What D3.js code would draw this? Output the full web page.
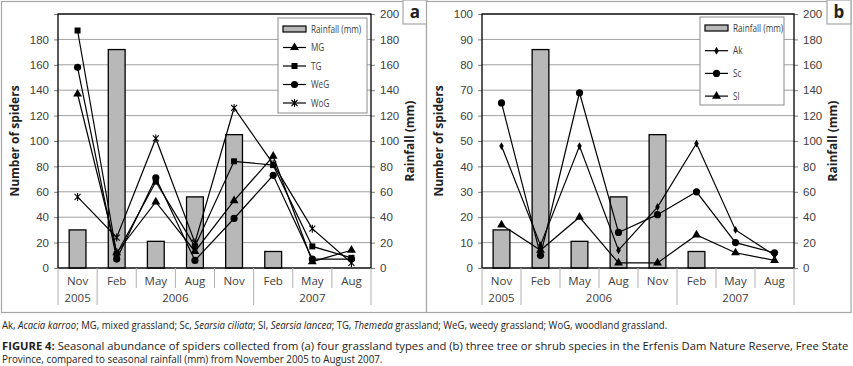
<!DOCTYPE html>
<html lang="en">
<head>
  <meta charset="UTF-8" />
  <title>Seasonal abundance of spiders</title>
  <script src="https://d3js.org/d3.v7.min.js"></script>
  <style>
    body { margin: 0; background: #fff; }
    svg { display: block; font-family: "Open Sans", sans-serif; }
  </style>
</head>
<body>
  <svg id="chart" width="853" height="366"></svg>
  <script>
    // categories (sampling seasons)
    const months = ["Nov", "Feb", "May", "Aug", "Nov", "Feb", "May", "Aug"];
    const years = [
      { label: "2005", from: 0, to: 1 },
      { label: "2006", from: 1, to: 5 },
      { label: "2007", from: 5, to: 8 }
    ];
    // rainfall (mm), right axis
    const rainfall = [30, 172, 21, 56, 105, 13, 0, 0];
    // panel a: grassland types
    const mg  = [137, 12, 52, 13, 53, 88, 5, 14];
    const tg  = [187, 11, 68, 17, 84, 81, 17, 8];
    const weg = [158, 7, 71, 6, 39, 73, 7, 7];
    const wog = [56, 24, 102, 20, 126, 82, 31, 4];
    // panel b: tree / shrub species
    const ak = [48, 9, 48, 7, 24, 49, 15, 5];
    const sc = [65, 5, 69, 14, 21, 30, 10, 6];
    const sl = [17, 7, 20, 2, 2, 13, 6, 3];

    const svg = d3.select("#chart");
    const grey = "#a6a6a6";
    const textCol = "#404040";

    // marker shapes
    const markers = {
      triangle: g => g.append("path").attr("d", d3.symbol(d3.symbolTriangle, 34)()),
      square: g => g.append("rect").attr("x", -3).attr("y", -3).attr("width", 6).attr("height", 6),
      circle: g => g.append("circle").attr("r", 3.6),
      diamond: g => g.append("path").attr("d", d3.symbol(d3.symbolDiamond, 18)()),
      star: g => g.append("path").attr("d", "M-3,-3L3,3M-3,3L3,-3M0,-4L0,4")
                  .attr("stroke", "#000").attr("stroke-width", 1.1).attr("fill", "none")
    };

    function drawPanel(p) {
      const g = svg.append("g");
      const x = d3.scaleBand().domain(d3.range(months.length)).range([p.left, p.right]);
      const yL = d3.scaleLinear().domain([0, p.leftMax]).range([p.bottom, p.top]);
      const yR = d3.scaleLinear().domain([0, 200]).range([p.bottom, p.top]);
      const cx = i => x(i) + x.bandwidth() / 2;

      // outer frame
      g.append("rect").attr("x", p.frameX).attr("y", 1.5).attr("width", p.frameW).attr("height", 311)
        .attr("fill", "#fff").attr("stroke", grey).attr("stroke-width", 1.2);

      // gridlines
      const lt = d3.range(0, p.leftMax + 0.1, p.leftStep);
      g.append("g").selectAll("line").data(lt).join("line")
        .attr("x1", p.left).attr("x2", p.right)
        .attr("y1", d => yL(d)).attr("y2", d => yL(d))
        .attr("stroke", "#a0a0a0").attr("stroke-width", 1);

      // left axis
      const la = g.append("g").attr("transform", `translate(${p.left},0)`)
        .call(d3.axisLeft(yL).tickValues(lt).tickSize(4).tickPadding(5)
          .tickFormat(d => d === p.leftMax && p.hideTop ? "" : d));
      // right axis
      const ra = g.append("g").attr("transform", `translate(${p.right},0)`)
        .call(d3.axisRight(yR).tickValues(d3.range(0, 201, 20)).tickSize(4).tickPadding(5));
      [la, ra].forEach(a => {
        a.select(".domain").remove();
        a.selectAll("line").attr("stroke", "#808080");
        a.selectAll("text").attr("fill", textCol).style("font-size", "11.5px");
      });

      // axis titles
      g.append("text").attr("transform", `translate(${p.left - 39},${(p.top + p.bottom) / 2}) rotate(-90)`)
        .attr("text-anchor", "middle").attr("font-weight", "bold").style("font-size", "12px")
        .attr("fill", "#222").text("Number of spiders");
      g.append("text").attr("transform", `translate(${p.right + 43},${(p.top + p.bottom) / 2}) rotate(-90)`)
        .attr("text-anchor", "middle").attr("font-weight", "bold").style("font-size", "12px")
        .attr("fill", "#222").text("Rainfall (mm)");

      // rainfall bars
      const bw = x.bandwidth() * 0.43;
      const bars = rainfall.map((v, i) => ({ v, i })).filter(d => d.v > 0);
      g.append("g").selectAll("rect").data(bars).join("rect")
        .attr("x", d => cx(d.i) - bw / 2)
        .attr("y", d => yR(d.v)).attr("width", bw).attr("height", d => p.bottom - yR(d.v))
        .attr("fill", "#b8b8b8").attr("stroke", "#000").attr("stroke-width", 1.3);

      // plot border
      g.append("rect").attr("x", p.left).attr("y", p.top)
        .attr("width", p.right - p.left).attr("height", p.bottom - p.top)
        .attr("fill", "none").attr("stroke", "#000").attr("stroke-width", 1.3);

      // category separators
      const bounds = d3.range(months.length + 1);
      const yearBounds = new Set(years.flatMap(y => [y.from, y.to]));
      g.append("g").selectAll("line").data(bounds).join("line")
        .attr("x1", i => i < months.length ? x(i) : p.right)
        .attr("x2", i => i < months.length ? x(i) : p.right)
        .attr("y1", p.bottom).attr("y2", i => yearBounds.has(i) ? p.bottom + 37 : p.bottom + 20)
        .attr("stroke", "#b0b0b0").attr("stroke-width", 1);

      g.append("g").selectAll("text").data(months).join("text")
        .attr("x", (d, i) => cx(i)).attr("y", p.bottom + 17)
        .attr("text-anchor", "middle").attr("fill", textCol).style("font-size", "11.5px").text(d => d);
      g.append("g").selectAll("text").data(years).join("text")
        .attr("x", d => (x(d.from) + (d.to < months.length ? x(d.to) : p.right)) / 2)
        .attr("y", p.bottom + 34)
        .attr("text-anchor", "middle").attr("fill", textCol).style("font-size", "11.5px").text(d => d.label);

      // series lines + markers
      const line = d3.line().x((d, i) => cx(i)).y(d => yL(d));
      p.series.forEach(s => {
        g.append("path").datum(s.values).attr("d", line)
          .attr("fill", "none").attr("stroke", "#000").attr("stroke-width", 1.2);
        s.values.forEach((v, i) => {
          markers[s.marker](g.append("g").attr("transform", `translate(${cx(i)},${yL(v)})`));
        });
      });

      // legend
      const lg = g.append("g").attr("transform", `translate(${p.legX},${p.legY})`);
      lg.append("rect").attr("width", p.legW).attr("height", p.legH)
        .attr("fill", "#fff").attr("stroke", "#8c8c8c").attr("stroke-width", 1);
      const ly = i => 11 + i * p.legStep;
      const legText = (yy, t) => lg.append("text")
        .attr("transform", `translate(33,${yy + 3.5}) scale(0.82,1)`)
        .style("font-size", "10px").attr("fill", textCol).text(t);
      lg.append("rect").attr("x", 5).attr("y", ly(0) - 3).attr("width", 23).attr("height", 6)
        .attr("fill", "#b8b8b8").attr("stroke", "#000").attr("stroke-width", 1.2);
      legText(ly(0), "Rainfall (mm)");
      p.series.forEach((s, j) => {
        const yy = ly(j + 1);
        lg.append("line").attr("x1", 5).attr("x2", 28).attr("y1", yy).attr("y2", yy)
          .attr("stroke", "#000").attr("stroke-width", 1.2);
        markers[s.marker](lg.append("g").attr("transform", `translate(16.5,${yy})`));
        legText(yy, s.name);
      });

      // panel letter box
      g.append("rect").attr("x", p.boxX).attr("y", 0).attr("width", 24).attr("height", 24)
        .attr("fill", "#fff").attr("stroke", grey).attr("stroke-width", 1.2);
      g.append("text").attr("x", p.boxX + 12).attr("y", 18).attr("text-anchor", "middle")
        .attr("font-weight", "bold").style("font-size", "17px").attr("fill", "#222").text(p.letter);
    }

    drawPanel({
      frameX: 1.5, frameW: 425, left: 58, right: 371, top: 14, bottom: 268,
      leftMax: 200, leftStep: 20, hideTop: true, boxX: 403, letter: "a",
      legX: 278, legY: 18, legW: 89, legH: 95, legStep: 18.5,
      series: [
        { name: "MG", values: mg, marker: "triangle" },
        { name: "TG", values: tg, marker: "square" },
        { name: "WeG", values: weg, marker: "circle" },
        { name: "WoG", values: wog, marker: "star" }
      ]
    });
    drawPanel({
      frameX: 426.5, frameW: 424.5, left: 482, right: 794, top: 14, bottom: 268,
      leftMax: 100, leftStep: 10, hideTop: false, boxX: 827, letter: "b",
      legX: 700, legY: 17, legW: 84, legH: 88, legStep: 22.7,
      series: [
        { name: "Ak", values: ak, marker: "diamond" },
        { name: "Sc", values: sc, marker: "circle" },
        { name: "Sl", values: sl, marker: "triangle" }
      ]
    });

    // caption, each line squeezed horizontally to the reference width
    function captionLine(y, parts, width) {
      const grp = svg.append("g");
      const t = grp.append("text").attr("fill", "#222").style("font-size", "11px");
      parts.forEach(([s, style]) => t.append("tspan")
        .attr("font-style", style === "i" ? "italic" : "normal")
        .attr("font-weight", style === "b" ? "bold" : "normal").text(s));
      const sx = width / t.node().getComputedTextLength();
      grp.attr("transform", `translate(2,${y}) scale(${sx},1)`);
    }
    captionLine(329, [["Ak, "], ["Acacia karroo", "i"], ["; MG, mixed grassland; Sc, "], ["Searsia ciliata", "i"],
      ["; Sl, "], ["Searsia lancea", "i"], ["; TG, "], ["Themeda", "i"],
      [" grassland; WeG, weedy grassland; WoG, woodland grassland."]], 666);
    captionLine(350, [["FIGURE 4:", "b"], [" Seasonal abundance of spiders collected from (a) four grassland types and (b) three tree or shrub species in the Erfenis Dam Nature Reserve, Free State"]], 847);
    captionLine(363, [["Province, compared to seasonal rainfall (mm) from November 2005 to August 2007."]], 381);
  </script>
</body>
</html>
